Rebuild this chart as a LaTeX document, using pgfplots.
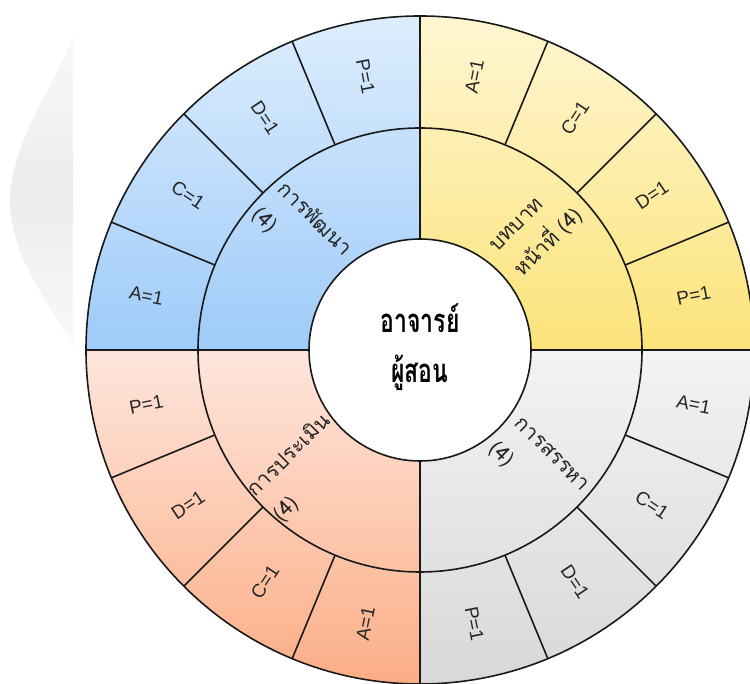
\documentclass[border=0pt]{standalone}
\usepackage{pgfplots}
\pgfplotsset{compat=1.18}
\usepackage{fontspec}
\setmainfont{Liberation Sans}
\newfontfamily\thaifont[Script=Thai]{Loma}
\newfontfamily\thaicenter[Script=Thai,FakeStretch=0.7]{Loma}
\definecolor{bluetop}{HTML}{DDEDFD}
\definecolor{bluebot}{HTML}{9ECBF9}
\definecolor{yeltop}{HTML}{FFF6D2}
\definecolor{yelbot}{HTML}{FBE37A}
\definecolor{graytop}{HTML}{F3F3F3}
\definecolor{graybot}{HTML}{D8D8D8}
\definecolor{ortop}{HTML}{FEE6DD}
\definecolor{orbot}{HTML}{FBAD86}
\tikzset{outlab/.style={font=\fontsize{19}{21}\selectfont, text=black!85},
  inlab/.style={align=left, font=\thaifont\fontsize{21}{36}\selectfont, text=black!85},
  seg/.style={line width=1.6bp, black!90}}
\begin{document}
\begin{tikzpicture}
\begin{axis}[x=1bp, y=1bp, xmin=-420, xmax=330, ymin=-334, ymax=350,
  hide axis, clip=false]
\begin{scope}[shift={(axis cs:0,0)}]
% decorative swoosh
\shade[top color=gray!5, bottom color=gray!5, middle color=gray!15]
  (-347bp,317bp) .. controls (-355bp,280bp) and (-410bp,210bp) .. (-410bp,150bp)
  .. controls (-410bp,90bp) and (-365bp,40bp) .. (-347bp,3bp) -- cycle;
% quadrants (each group = 4 items of value 1 -> 90 deg; each item 22.5 deg)
\foreach \s/\e/\ct/\cb in {0/90/yeltop/yelbot, 90/180/bluetop/bluebot,
                           180/270/ortop/orbot, 270/360/graytop/graybot}{
  \edef\tmp{\noexpand\shade[top color=\ct, bottom color=\cb]
    (\s:111bp) -- (\s:334bp) arc[start angle=\s, end angle=\e, radius=334bp]
    -- (\e:111bp) arc[start angle=\e, end angle=\s, radius=111bp] -- cycle;}\tmp
}
\foreach \a in {0,90,180,270}{\edef\tmp{\noexpand\draw[seg] (\a:111bp) -- (\a:334bp);}\tmp}
\foreach \a in {22.5,45,67.5,112.5,135,157.5,202.5,225,247.5,292.5,315,337.5}{
  \edef\tmp{\noexpand\draw[seg] (\a:222bp) -- (\a:334bp);}\tmp}
\draw[seg] (0:0bp) circle[radius=222bp];
\draw[seg] (0:0bp) circle[radius=334bp];
\draw[seg, fill=white] (0:0bp) circle[radius=111bp];
% outer labels
\foreach \a/\r/\t in {78.75/78.75/A, 56.25/56.25/C, 33.75/33.75/D, 11.25/11.25/P,
   348.75/-11.25/A, 326.25/-33.75/C, 303.75/-56.25/D, 281.25/-78.75/P,
   258.75/78.75/A, 236.25/56.25/C, 213.75/33.75/D, 191.25/11.25/P,
   168.75/-11.25/A, 146.25/-33.75/C, 123.75/-56.25/D, 101.25/-78.75/P}{
  \edef\tmp{\noexpand\node[outlab, rotate=\r] at (\a:279bp) {\t=1};}\tmp
}
% inner labels
\node[inlab, rotate=-45] at (135:167bp) {การพัฒนา\\(4)};
\node[inlab, rotate=45] at (45:167bp) {บทบาท\\หน้าที่ (4)};
\node[inlab, rotate=-45] at (315:167bp) {การสรรหา\\(4)};
\node[inlab, rotate=45] at (225:167bp) {การประเมิน\\(4)};
% centre
\node[anchor=base, font=\thaicenter\bfseries\fontsize{33}{35}\selectfont] at (0bp,17bp) {อาจารย์};
\node[anchor=base, font=\thaicenter\bfseries\fontsize{33}{35}\selectfont] at (0bp,-33bp) {ผู้สอน};
\end{scope}
\end{axis}
\pgfresetboundingbox
\path (current axis.south west) rectangle (current axis.north east);
\end{tikzpicture}
\end{document}
